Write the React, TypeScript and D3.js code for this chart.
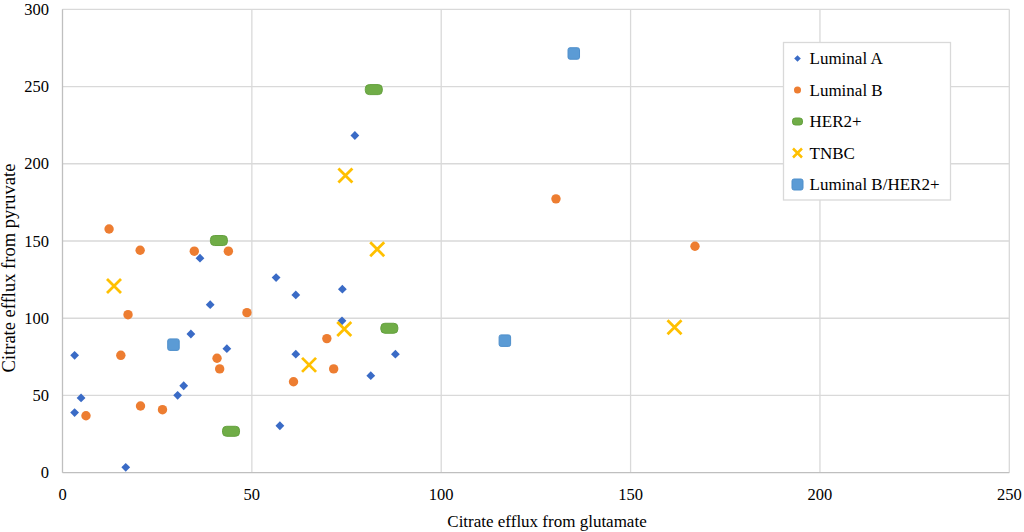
import React, { useEffect, useRef } from 'react';
import * as d3 from 'd3';

// values, [glutamate, pyruvate]
const luminalA: [number, number][] = [
  [3.2, 76], [3.2, 38.9], [4.9, 48.4], [16.7, 3.5], [30.4, 50.1], [32, 56.3],
  [33.9, 89.8], [39, 108.8], [43.4, 80.3], [36.3, 138.9], [56.4, 126.3],
  [61.6, 115.1], [73.9, 118.8], [73.8, 98.3], [61.6, 76.7], [81.4, 62.8],
  [87.9, 76.7], [57.4, 30.4], [77.2, 218.3],
];
const luminalB: [number, number][] = [
  [6.2, 36.9], [15.4, 76], [17.3, 102.3], [20.6, 43.2], [26.4, 40.8],
  [40.8, 74.1], [41.5, 67.2], [48.7, 103.6], [61, 58.9], [12.3, 157.8],
  [20.5, 144], [34.8, 143.4], [43.8, 143.4], [69.8, 86.8], [71.6, 67.2],
  [130.3, 177.3], [167, 146.6],
];
const her2: [number, number][] = [[82.2, 248], [41.3, 150.3], [86.3, 93.5], [44.5, 26.8]];
const tnbc: [number, number][] = [
  [13.6, 120.9], [65.1, 69.8], [74.4, 93.1], [83.1, 144.7], [74.7, 192.4], [161.6, 94.2],
];
const luminalBHer2: [number, number][] = [[29.3, 82.9], [116.8, 85.5], [135, 271.4]];

const xTicks = [0, 50, 100, 150, 200, 250];
const yTicks = [0, 50, 100, 150, 200, 250, 300];

const seriesNames = ['Luminal A', 'Luminal B', 'HER2+', 'TNBC', 'Luminal B/HER2+'];
const seriesData = [luminalA, luminalB, her2, tnbc, luminalBHer2];

const W = 1024;
const H = 532;
const FONT = '"Liberation Serif", "Times New Roman", serif';

type Sel = d3.Selection<SVGGElement, unknown, null, undefined>;

// draws one marker of a series centred at 0,0 in group g
const drawMarker = (g: Sel, i: number, small = false) => {
  const k = small ? 0.75 : 1;
  if (i === 0) {
    const s = 4.4 * k;
    g.append('path')
      .attr('d', `M0,${-s}L${s},0L0,${s}L${-s},0Z`)
      .attr('fill', '#3a6bc6');
  } else if (i === 1) {
    g.append('circle').attr('r', 4.7 * k).attr('fill', '#ed7d31');
  } else if (i === 2) {
    const w = small ? 10 : 17;
    const h = small ? 7 : 10;
    g.append('rect')
      .attr('x', -w / 2).attr('y', -h / 2)
      .attr('width', w).attr('height', h)
      .attr('rx', h / 2.5)
      .attr('fill', '#70ad47')
      .attr('stroke', '#64a03e')
      .attr('stroke-width', 1);
  } else if (i === 3) {
    const s = small ? 4.5 : 7;
    g.append('path')
      .attr('d', `M${-s},${-s}L${s},${s}M${-s},${s}L${s},${-s}`)
      .attr('stroke', '#ffc000')
      .attr('stroke-width', small ? 2.5 : 2.8)
      .attr('fill', 'none');
  } else {
    const s = small ? 11 : 11.5;
    g.append('rect')
      .attr('x', -s / 2).attr('y', -s / 2)
      .attr('width', s).attr('height', s)
      .attr('rx', 2)
      .attr('fill', '#5b9bd5')
      .attr('stroke', '#4f8fcb')
      .attr('stroke-width', 1);
  }
};

const App: React.FC = () => {
  const svgRef = useRef<SVGSVGElement>(null);

  useEffect(() => {
    const svg = d3.select(svgRef.current);
    svg.selectAll('*').remove();

    const x = d3.scaleLinear().domain([0, 250]).range([62.5, 1009.3]);
    const y = d3.scaleLinear().domain([0, 300]).range([472.7, 9.3]);

    // gridlines
    svg.append('g')
      .selectAll('line')
      .data(xTicks.slice(1))
      .enter().append('line')
      .attr('x1', d => x(d)).attr('x2', d => x(d))
      .attr('y1', y(0)).attr('y2', y(300))
      .attr('stroke', '#d9d9d9')
      .attr('stroke-width', 1.3);

    svg.append('g')
      .selectAll('line')
      .data(yTicks.slice(1))
      .enter().append('line')
      .attr('x1', x(0)).attr('x2', x(250))
      .attr('y1', d => y(d)).attr('y2', d => y(d))
      .attr('stroke', '#d9d9d9')
      .attr('stroke-width', 1.3);

    // axis lines
    svg.append('line')
      .attr('x1', x(0)).attr('x2', x(250))
      .attr('y1', y(0)).attr('y2', y(0))
      .attr('stroke', '#bfbfbf').attr('stroke-width', 1.3);
    svg.append('line')
      .attr('x1', x(0)).attr('x2', x(0))
      .attr('y1', y(0)).attr('y2', y(300))
      .attr('stroke', '#bfbfbf').attr('stroke-width', 1.3);

    // tick labels
    svg.append('g')
      .selectAll('text')
      .data(xTicks)
      .enter().append('text')
      .attr('x', d => x(d))
      .attr('y', 499.5)
      .attr('text-anchor', 'middle')
      .attr('font-family', FONT)
      .attr('font-size', 16.5)
      .attr('fill', '#000')
      .text(d => d);

    svg.append('g')
      .selectAll('text')
      .data(yTicks)
      .enter().append('text')
      .attr('x', 49)
      .attr('y', d => y(d) + 5.5)
      .attr('text-anchor', 'end')
      .attr('font-family', FONT)
      .attr('font-size', 16.5)
      .attr('fill', '#000')
      .text(d => d);

    // axis titles
    svg.append('text')
      .attr('x', 547)
      .attr('y', 526.5)
      .attr('text-anchor', 'middle')
      .attr('font-family', FONT)
      .attr('font-size', 17)
      .text('Citrate efflux from glutamate');

    svg.append('text')
      .attr('transform', 'rotate(-90)')
      .attr('x', -268)
      .attr('y', 15)
      .attr('text-anchor', 'middle')
      .attr('font-family', FONT)
      .attr('font-size', 18.5)
      .text('Citrate efflux from pyruvate');

    // points
    seriesData.forEach((data, i) => {
      const layer = svg.append('g');
      data.forEach(d => {
        const g = layer.append('g').attr('transform', `translate(${x(d[0])},${y(d[1])})`);
        drawMarker(g, i);
      });
    });

    // legend
    const legend = svg.append('g').attr('transform', 'translate(783.5,42.5)');
    legend.append('rect')
      .attr('width', 167)
      .attr('height', 157.5)
      .attr('fill', '#fff')
      .attr('stroke', '#d9d9d9')
      .attr('stroke-width', 1.3);

    seriesNames.forEach((name, i) => {
      const cy = 16 + i * 31.5;
      const g = legend.append('g').attr('transform', `translate(14,${cy})`);
      drawMarker(g, i, true);
      legend.append('text')
        .attr('x', 26)
        .attr('y', cy + 5.8)
        .attr('font-family', FONT)
        .attr('font-size', 17)
        .attr('fill', '#000')
        .text(name);
    });
  }, []);

  return (
    <div style={{ position: 'absolute', left: 0, top: 0, width: W, height: H, background: '#fff' }}>
      <svg ref={svgRef} width={W} height={H}></svg>
    </div>
  );
};

export default App;
